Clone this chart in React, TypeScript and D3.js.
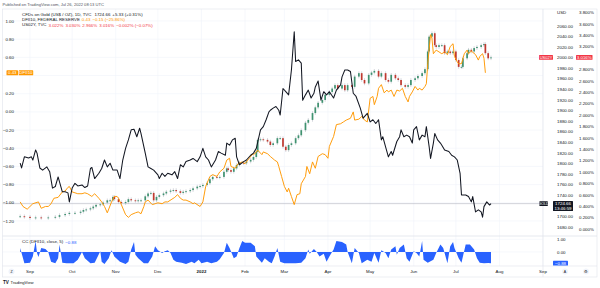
import React from 'react';
import * as d3 from 'd3';

// ---- DATA (day offset from 2021-09-01, value) ----
const goldSeries: [number, number][] = [
  [-7,1801],[-6,1792],[-4,1813],[-1,1811],[1,1813],[2,1807],[4,1826],[5,1820],[7,1792],[9,1788],[12,1794],[14,1785],[16,1754],[18,1757],[20,1775],[23,1747],[25,1747],[27,1745],[28,1728],[30,1754],[32,1763],[34,1758],[37,1760],[39,1755],[41,1758],[43,1791],[44,1793],[46,1772],[49,1782],[51,1791],[53,1807],[55,1794],[57,1801],[59,1788],[62,1788],[64,1772],[66,1807],[68,1829],[70,1845],[72,1864],[74,1865],[76,1851],[78,1867],[79,1857],[82,1820],[84,1794],[86,1791],[88,1788],[91,1779],[92,1772],[94,1782],[96,1776],[98,1782],[101,1779],[103,1785],[105,1772],[107,1798],[109,1794],[111,1804],[114,1807],[116,1810],[119,1804],[121,1813],[123,1829],[125,1813],[127,1807],[129,1794],[132,1807],[134,1823],[136,1820],[139,1816],[140,1839],[142,1835],[144,1845],[146,1848],[147,1813],[149,1798],[152,1804],[154,1807],[157,1816],[159,1820],[161,1829],[164,1864],[166,1870],[168,1883],[170,1898],[171,1901],[173,1905],[175,1908],[177,1901],[178,1892],[180,1942],[182,1936],[184,1930],[186,1977],[188,2049],[189,1993],[191,1996],[193,1990],[194,1920],[196,1930],[198,1939],[200,1924],[202,1933],[203,1945],[205,1956],[207,1920],[209,1936],[211,1930],[213,1936],[216,1924],[218,1939],[221,1949],[222,1964],[224,1977],[226,1977],[228,1974],[230,1933],[232,1927],[235,1905],[237,1886],[240,1895],[242,1879],[244,1883],[246,1876],[248,1883],[250,1845],[251,1851],[253,1832],[255,1813],[257,1823],[258,1816],[261,1842],[263,1851],[264,1864],[266,1851],[268,1854],[270,1851],[272,1839],[273,1864],[275,1870],[277,1845],[279,1854],[281,1851],[282,1870],[284,1832],[285,1810],[287,1839],[288,1857],[290,1845],[292,1839],[293,1835],[295,1826],[298,1823],[300,1816],[302,1813],[304,1807],[306,1782],[307,1741],[310,1741],[312,1738],[314,1728],[315,1738],[317,1709],[319,1713],[321,1709],[322,1699],[323,1719],[325,1728],[327,1722],[328,1724.66]
];

const dfiiSeries: [number, number][] = [
  [-7,-0.99],[-5,-1.04],[-2,-1.07],[0,-1.04],[2,-1.01],[6,-0.99],[8,-1.06],[11,-1.04],[13,-1.04],[15,-1.01],[17,-0.95],[20,-0.94],[23,-0.88],[25,-0.87],[27,-0.83],[28,-0.82],[30,-0.88],[32,-0.89],[34,-0.90],[37,-0.90],[39,-0.89],[41,-0.90],[44,-0.93],[46,-0.90],[49,-0.95],[51,-0.99],[53,-1.04],[55,-1.11],[58,-0.99],[60,-0.93],[62,-0.93],[63,-0.95],[65,-1.02],[68,-1.13],[70,-1.16],[72,-1.13],[75,-1.11],[77,-1.10],[79,-1.12],[81,-1.04],[82,-0.99],[84,-0.97],[87,-1.02],[89,-1.01],[91,-1.00],[94,-1.01],[96,-0.99],[98,-0.99],[101,-0.96],[103,-0.94],[105,-0.91],[107,-0.95],[109,-0.97],[111,-0.97],[114,-0.99],[116,-1.01],[117,-1.00],[121,-1.04],[123,-0.99],[125,-0.82],[128,-0.71],[130,-0.69],[133,-0.71],[135,-0.66],[138,-0.62],[140,-0.53],[142,-0.51],[143,-0.60],[146,-0.62],[148,-0.57],[151,-0.55],[153,-0.57],[155,-0.53],[158,-0.47],[160,-0.46],[162,-0.42],[165,-0.47],[166,-0.44],[169,-0.46],[171,-0.49],[174,-0.53],[176,-0.55],[177,-0.60],[179,-0.71],[181,-0.82],[183,-0.88],[184,-0.84],[186,-0.93],[188,-1.02],[190,-0.91],[192,-0.90],[193,-0.79],[196,-0.71],[197,-0.60],[199,-0.68],[201,-0.55],[203,-0.62],[205,-0.49],[208,-0.46],[210,-0.47],[212,-0.51],[213,-0.38],[216,-0.27],[218,-0.14],[221,-0.13],[223,-0.11],[225,-0.09],[228,-0.07],[230,0.00],[231,-0.09],[234,-0.08],[236,-0.05],[238,-0.09],[240,-0.11],[242,0.15],[244,0.17],[245,0.08],[247,0.17],[248,0.26],[250,0.30],[252,0.21],[254,0.24],[255,0.22],[257,0.24],[259,0.17],[261,0.24],[263,0.23],[265,0.26],[267,0.17],[269,0.11],[270,0.17],[272,0.22],[274,0.28],[276,0.24],[277,0.26],[279,0.24],[281,0.28],[282,0.31],[283,0.53],[285,0.85],[286,0.81],[287,0.64],[289,0.68],[291,0.66],[293,0.64],[295,0.66],[297,0.63],[299,0.72],[301,0.75],[302,0.61],[304,0.55],[305,0.53],[307,0.53],[309,0.64],[311,0.68],[312,0.64],[314,0.67],[317,0.63],[319,0.57],[320,0.61],[322,0.64],[323,0.59],[324,0.43]
];

const us02yCloses: [number, number][] = [
  [-7,0.23],[-4,0.22],[0,0.20],[4,0.21],[8,0.20],[13,0.21],[18,0.22],[21,0.25],[25,0.27],[28,0.29],[32,0.29],[36,0.31],[38,0.34],[40,0.35],[43,0.37],[45,0.40],[47,0.43],[50,0.44],[52,0.47],[55,0.51],[57,0.51],[59,0.57],[60,0.53],[63,0.48],[65,0.46],[68,0.48],[70,0.53],[72,0.51],[75,0.50],[77,0.51],[79,0.51],[82,0.58],[84,0.63],[86,0.64],[88,0.51],[90,0.57],[92,0.60],[95,0.63],[97,0.66],[100,0.68],[102,0.69],[104,0.67],[107,0.64],[109,0.66],[111,0.67],[114,0.69],[116,0.72],[119,0.75],[121,0.76],[123,0.78],[126,0.81],[128,0.88],[130,0.92],[133,0.91],[135,0.92],[138,1.01],[140,1.07],[141,1.04],[143,1.01],[145,1.07],[147,1.13],[149,1.17],[152,1.16],[154,1.19],[157,1.22],[159,1.27],[161,1.36],[162,1.57],[164,1.58],[166,1.57],[169,1.54],[171,1.48],[173,1.51],[176,1.60],[178,1.60],[180,1.45],[182,1.39],[184,1.48],[186,1.51],[189,1.60],[191,1.65],[193,1.74],[196,1.87],[198,1.92],[201,2.04],[203,2.14],[205,2.22],[208,2.27],[210,2.36],[213,2.41],[215,2.47],[217,2.53],[219,2.47],[222,2.53],[224,2.44],[226,2.53],[229,2.50],[231,2.68],[234,2.74],[236,2.62],[238,2.56],[241,2.71],[243,2.75],[245,2.78],[248,2.68],[250,2.74],[253,2.62],[255,2.59],[257,2.71],[260,2.65],[262,2.62],[264,2.53],[267,2.50],[269,2.53],[271,2.62],[274,2.65],[276,2.69],[279,2.74],[281,2.81],[283,3.12],[284,3.38],[286,3.44],[288,3.23],[289,3.20],[291,3.23],[293,3.23],[295,3.09],[297,3.12],[299,3.09],[301,3.12],[303,2.97],[305,2.85],[307,2.85],[308,3.00],[311,3.09],[312,3.15],[314,3.12],[316,3.18],[318,3.20],[321,3.23],[323,3.25],[324,3.09],[326,3.00],[328,3.016]
];

const ccSeries: [number, number][] = [
  [-7,0.32],[-6,-0.08],[-4,-0.89],[0,-0.84],[2,-0.35],[4,0.86],[5,-0.08],[6,-0.40],[8,0.32],[11,0.24],[13,0.0],[15,-0.76],[18,-0.89],[20,-0.49],[21,0.60],[23,-0.84],[26,-0.89],[31,-0.89],[34,-0.62],[37,0.0],[39,-0.49],[43,-0.89],[46,-0.84],[50,0.05],[51,-0.76],[53,-0.95],[56,-0.49],[58,0.14],[60,-0.35],[64,-0.76],[68,-0.95],[70,-0.76],[72,0.19],[74,0.78],[75,-0.22],[77,-0.49],[81,-0.89],[84,-0.89],[87,-0.35],[89,0.46],[91,0.14],[94,-0.08],[96,0.05],[98,0.14],[100,-0.08],[102,-0.62],[104,-0.76],[108,-0.84],[111,-0.95],[115,-0.76],[117,-0.89],[120,-0.62],[122,-0.89],[126,-0.76],[129,-0.89],[133,-0.76],[135,-0.57],[138,-0.08],[140,0.73],[142,0.32],[145,-0.49],[147,-0.35],[149,0.32],[151,0.86],[153,0.73],[157,0.73],[160,0.46],[161,-0.35],[165,-0.84],[167,-0.49],[170,-0.76],[172,-0.89],[174,-0.35],[176,0.32],[178,-0.76],[181,-0.89],[189,-0.89],[193,-0.84],[196,-0.49],[198,0.19],[199,-0.14],[202,0.24],[204,0.0],[206,-0.35],[209,-0.14],[211,-0.76],[213,-0.35],[216,0.19],[218,0.86],[222,0.78],[225,0.60],[226,0.0],[229,-0.89],[231,0.32],[234,-0.08],[236,-0.89],[240,-0.62],[243,-0.76],[245,-0.08],[248,-0.84],[250,0.14],[253,-0.08],[255,-0.49],[257,0.19],[260,0.46],[261,-0.22],[263,0.32],[266,0.60],[268,-0.49],[270,-0.76],[273,0.05],[275,-0.08],[277,-0.35],[279,0.86],[280,-0.62],[283,-0.84],[287,-0.62],[289,-0.08],[292,0.60],[294,0.32],[297,-0.89],[299,0.46],[301,0.78],[302,0.32],[305,-0.49],[307,-0.84],[310,0.60],[313,0.60],[316,0.19],[318,-0.49],[320,-0.84],[323,-0.89],[326,-0.86],[328,-0.88]
];

const monthLabels = ["Sep","Oct","Nov","Dec","2022","Feb","Mar","Apr","May","Jun","Jul","Aug","Sep"];
const monthDates = ["2021-09-01","2021-10-01","2021-11-01","2021-12-01","2022-01-01","2022-02-01","2022-03-01","2022-04-01","2022-05-01","2022-06-01","2022-07-01","2022-08-01","2022-09-01"];
const leftTicks = [1.0,0.8,0.6,0.4,0.2,0.0,-0.2,-0.4,-0.6,-0.8,-1.0,-1.2];
const goldTicks = [2060,2040,2020,2000,1980,1960,1940,1920,1900,1880,1860,1840,1820,1800,1780,1760,1740,1720,1700,1680];
const pctTicks = [3.8,3.6,3.4,3.2,3.0,2.8,2.6,2.4,2.2,2.0,1.8,1.6,1.4,1.2,1.0,0.8,0.6,0.4,0.2,0.0];
const ccTicks = [1.0, 0.0];

const lastGold = 1724.66;
const lastDfii = 0.43;
const lastUs = 3.016;
const lastCC = -0.88;

const FONT = "'Liberation Sans', Arial, sans-serif";
const START = new Date(2021, 8, 1);
const toDate = (d: number) => d3.timeDay.offset(START, d);
const parse = d3.timeParse("%Y-%m-%d");

export default function App() {
  const x = d3.scaleTime().domain([parse("2021-09-01")!, parse("2022-09-01")!]).range([30, 543]);
  const yL = d3.scaleLinear().domain([-1.2, 1.0]).range([221, 21]);
  const yG = d3.scaleLinear().domain([1680, 2060]).range([227.3, 26]);
  const yP = d3.scaleLinear().domain([0, 3.8]).range([229.4, 12.7]);
  const yC = d3.scaleLinear().domain([-1, 1]).range([264.7, 239.3]);

  const PL = 2.5, PR = 543, PT = 9, PB = 236, CB = 266, AB = 277;

  const goldLine = d3.line<[number, number]>().x(d => x(toDate(d[0]))).y(d => yG(d[1]));
  const dfiiLine = d3.line<[number, number]>().x(d => x(toDate(d[0]))).y(d => yL(d[1]));
  const ccArea = d3.area<[number, number]>().x(d => x(toDate(d[0]))).y0(yC(0)).y1(d => yC(d[1]));

  const green = "#3f9270", red = "#c0392f";
  const candles = us02yCloses.map((c, i) => {
    const open = i > 0 ? us02yCloses[i - 1][1] : c[1];
    const close = c[1];
    const cx = x(toDate(c[0]));
    const yo = yP(open), yc = yP(close);
    const top = Math.min(yo, yc), bot = Math.max(yo, yc);
    const col = close >= open ? green : red;
    return (
      <g key={i}>
        <line x1={cx} x2={cx} y1={top - 1.8} y2={bot + 1.8} stroke="#b8bcc6" strokeWidth={0.6} />
        <rect x={cx - 0.85} y={top} width={1.7} height={Math.max(0.9, bot - top)} fill={col} />
      </g>
    );
  });

  const lblGoldY = yG(lastGold), lblPctY = yP(lastUs), lblLY = yL(lastDfii), lblCY = yC(lastCC);
  const fs = 4.4;

  return (
    <div style={{ position: 'fixed', left: 0, top: 0 }}>
      <svg width={600} height={288} style={{ display: 'block', background: '#fff' }} fontFamily={FONT}>
        <defs>
          <clipPath id="main"><rect x={PL} y={PT} width={PR - PL} height={PB - PT} /></clipPath>
          <clipPath id="ccp"><rect x={PL} y={PB} width={PR - PL} height={CB - PB} /></clipPath>
        </defs>
        <text x={2.5} y={4.8} fontSize={4.1} fill="#50535e" dominantBaseline="central">Published on TradingView.com, Jul 26, 2022 08:13 UTC</text>

        {/* grid */}
        {leftTicks.map(t => <line key={'gl' + t} x1={PL} x2={PR} y1={yL(t)} y2={yL(t)} stroke="#f0f3fa" strokeWidth={0.6} />)}
        {monthDates.map(m => { const px = x(parse(m)!); return <line key={'gv' + m} x1={px} x2={px} y1={PT} y2={CB} stroke="#f0f3fa" strokeWidth={0.6} />; })}
        {ccTicks.map(t => <line key={'gc' + t} x1={PL} x2={PR} y1={yC(t)} y2={yC(t)} stroke="#f0f3fa" strokeWidth={0.6} />)}

        {/* frame */}
        <rect x={PL} y={PT} width={597 - PL} height={AB - PT} fill="none" stroke="#e0e3eb" strokeWidth={0.6} />
        <line x1={PL} x2={597} y1={PB} y2={PB} stroke="#e0e3eb" strokeWidth={0.8} />
        <line x1={PL} x2={597} y1={CB} y2={CB} stroke="#e0e3eb" strokeWidth={0.6} />
        <line x1={PR} x2={PR} y1={PT} y2={AB} stroke="#e0e3eb" strokeWidth={0.6} />

        {/* main pane */}
        <g clipPath="url(#main)">
          <line x1={PL} x2={PR} y1={lblGoldY} y2={lblGoldY} stroke="#b2b5be" strokeWidth={0.6} />
          {candles}
          <path d={dfiiLine(dfiiSeries)!} fill="none" stroke="#ff9800" strokeWidth={0.95} strokeLinejoin="round" />
          <path d={goldLine(goldSeries)!} fill="none" stroke="#131722" strokeWidth={1.05} strokeLinejoin="round" />
        </g>

        {/* CC pane */}
        <g clipPath="url(#ccp)">
          <path d={ccArea(ccSeries)!} fill="#2962ff" />
        </g>

        {/* legends */}
        <g fontSize={fs} dominantBaseline="central">
          <text x={22} y={14} fill="#131722">CFDs on Gold (US$ / OZ), 1D, TVC<tspan dx={3}>1724.66</tspan><tspan dx={2}>+5.33 (+0.31%)</tspan></text>
          <text x={22} y={19.3} fill="#131722">DFII10, FEDERAL RESERVE<tspan dx={2} fill="#ff9800">0.43</tspan><tspan dx={2} fill="#ff9800">−0.15 (−25.86%)</tspan></text>
          <text x={22} y={24.6} fill="#131722">US02Y, TVC<tspan dx={2} fill="#f23645">3.022%</tspan><tspan dx={2} fill="#f23645">3.030%</tspan><tspan dx={2} fill="#f23645">2.966%</tspan><tspan dx={2} fill="#f23645">3.016%</tspan><tspan dx={2} fill="#f23645">−0.002% (−0.07%)</tspan></text>
          <text x={22} y={241.7} fill="#131722">CC (DFII10, close, 5)<tspan dx={2} fill="#2962ff">−0.88</tspan></text>
        </g>

        {/* left axis */}
        <g fontSize={fs} fill="#131722" textAnchor="end" dominantBaseline="central">
          {leftTicks.filter(t => Math.abs(yL(t) - lblLY) > 4).map(t => <text key={'lt' + t} x={14} y={yL(t)}>{t < 0 ? '−' + Math.abs(t).toFixed(2) : t.toFixed(2)}</text>)}
        </g>
        <rect x={6.5} y={lblLY - 2.5} width={11.5} height={5} fill="#ff9800" rx={0.6} />
        <text x={12.25} y={lblLY} fontSize={fs} fill="#fff" textAnchor="middle" dominantBaseline="central">{lastDfii.toFixed(2)}</text>
        <rect x={18.7} y={lblLY - 2.5} width={14.5} height={5} fill="#ff9800" rx={0.6} />
        <text x={25.95} y={lblLY} fontSize={fs} fill="#fff" textAnchor="middle" dominantBaseline="central">DFII10</text>

        {/* right axes */}
        <g fontSize={fs} fill="#131722" dominantBaseline="central">
          <text x={557} y={12.8}>USD</text>
          {goldTicks.filter(t => Math.abs(yG(t) - lblGoldY) > 4).map(t => <text key={'gt' + t} x={557} y={yG(t)}>{t.toFixed(2)}</text>)}
          {pctTicks.filter(t => Math.abs(yP(t) - lblPctY) > 4).map(t => <text key={'pt' + t} x={579} y={yP(t)}>{t.toFixed(3)}%</text>)}
          {ccTicks.map(t => <text key={'ct' + t} x={557} y={yC(t)}>{t.toFixed(2)}</text>)}
        </g>

        {/* US02Y labels */}
        <rect x={539} y={lblPctY - 2.4} width={14} height={4.8} fill="#f23645" rx={0.6} />
        <text x={546} y={lblPctY} fontSize={4} fill="#fff" textAnchor="middle" dominantBaseline="central">US02Y</text>
        <rect x={576} y={lblPctY - 2.4} width={16.5} height={4.8} fill="#f23645" rx={0.6} />
        <text x={584.25} y={lblPctY} fontSize={fs} fill="#fff" textAnchor="middle" dominantBaseline="central">{lastUs.toFixed(3)}%</text>

        {/* GOLD labels */}
        <rect x={539.3} y={lblGoldY - 2.3} width={8.6} height={4.6} fill="#131722" rx={0.6} />
        <text x={543.6} y={lblGoldY} fontSize={3.6} fill="#fff" textAnchor="middle" dominantBaseline="central">GOLD</text>
        <rect x={553} y={lblGoldY - 2.6} width={20} height={10} fill="#131722" rx={0.6} />
        <text x={563} y={lblGoldY} fontSize={fs} fill="#fff" textAnchor="middle" dominantBaseline="central">{lastGold.toFixed(2)}</text>
        <text x={563} y={lblGoldY + 4.6} fontSize={fs} fill="#fff" textAnchor="middle" dominantBaseline="central">13:46:59</text>

        {/* CC label */}
        <rect x={553} y={lblCY - 2.4} width={15} height={4.8} fill="#2962ff" rx={0.6} />
        <text x={560.5} y={lblCY} fontSize={fs} fill="#fff" textAnchor="middle" dominantBaseline="central">−0.88</text>

        {/* time axis */}
        <g fontSize={fs} fill="#131722" textAnchor="middle" dominantBaseline="central">
          {monthDates.map((m, i) => <text key={'m' + m} x={x(parse(m)!)} y={271.6} fontWeight={monthLabels[i] === '2022' ? 'bold' : 'normal'}>{monthLabels[i]}</text>)}
        </g>
        <circle cx={11.5} cy={271.5} r={3} fill="#f0f3fa" />
        <text x={11.5} y={271.6} fontSize={3.6} fill="#131722" textAnchor="middle" dominantBaseline="central">Z</text>
        <circle cx={565} cy={271.5} r={3} fill="#f0f3fa" />
        <text x={565} y={271.6} fontSize={3.6} fill="#131722" textAnchor="middle" dominantBaseline="central">A</text>
        <circle cx={586} cy={271.5} r={3} fill="#f0f3fa" />
        <text x={586} y={271.6} fontSize={3.6} fill="#131722" textAnchor="middle" dominantBaseline="central">⚙</text>

        {/* footer */}
        <text x={3} y={282.3} fontSize={4.6} fill="#131722" fontWeight="bold" dominantBaseline="central">TV</text>
        <text x={10.5} y={282.3} fontSize={4.2} fill="#131722" dominantBaseline="central">TradingView</text>
      </svg>
    </div>
  );
}
